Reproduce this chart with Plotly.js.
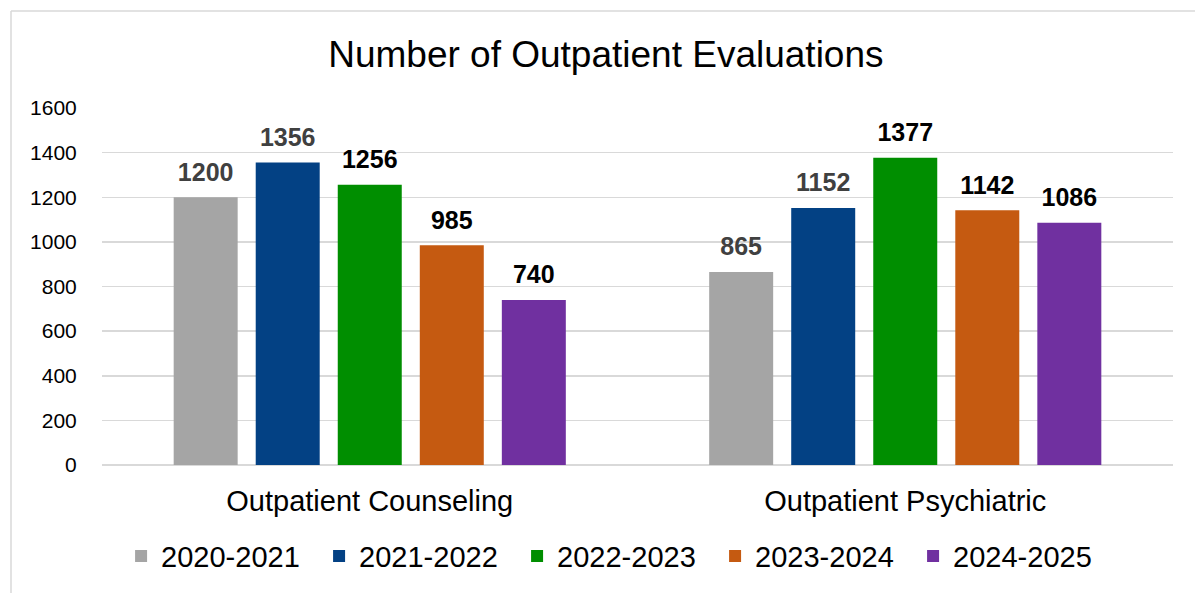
<!DOCTYPE html>
<html>
<head>
<meta charset="utf-8">
<script src="https://cdn.plot.ly/plotly-3.0.1.min.js"></script>
<style>
html,body{margin:0;padding:0;background:#fff;}
#chart{width:1195px;height:593px;}
</style>
</head>
<body>
<div id="chart"></div>
<script>
const categories = ["Outpatient Counseling", "Outpatient Psychiatric"];
const seriesNames = ["2020-2021", "2021-2022", "2022-2023", "2023-2024", "2024-2025"];
const v2020 = [1200, 865];
const v2021 = [1356, 1152];
const v2022 = [1256, 1377];
const v2023 = [985, 1142];
const v2024 = [740, 1086];
const yTicks = [0, 200, 400, 600, 800, 1000, 1200, 1400, 1600];

const colors = ["#A5A5A5", "#034184", "#008E00", "#C55A11", "#7030A0"];
const labelColors = ["#404040", "#404040", "#000000", "#000000", "#000000"];
const values = [v2020, v2021, v2022, v2023, v2024];
const FONT = "Liberation Sans, Arial, sans-serif";

const barTraces = values.map((vals, i) => ({
  type: "bar",
  name: seriesNames[i],
  x: categories,
  y: vals,
  marker: {color: colors[i], line: {width: 0}},
  hoverinfo: "skip"
}));

const labelTraces = values.map((vals, i) => ({
  type: "scatter",
  mode: "markers+text",
  orientation: "v",
  name: seriesNames[i] + " labels",
  showlegend: false,
  x: categories,
  y: vals,
  text: vals.map(v => String(v)),
  textposition: "top center",
  cliponaxis: false,
  marker: {size: 15, color: "rgba(0,0,0,0)", line: {width: 0}},
  textfont: {family: FONT, size: 25, color: labelColors[i], weight: "bold"},
  hoverinfo: "skip"
}));

const layout = {
  width: 1195,
  height: 593,
  paper_bgcolor: "#ffffff",
  plot_bgcolor: "#ffffff",
  margin: {l: 102, r: 22, t: 108, b: 128},
  title: {
    text: "Number of Outpatient Evaluations",
    font: {family: FONT, size: 37, color: "#000000"},
    x: 0.507, xanchor: "center",
    y: 0.909, yanchor: "middle"
  },
  barmode: "group",
  bargap: 0.234,
  bargroupgap: 0.22,
  scattermode: "group",
  scattergap: 0.234,
  showlegend: true,
  legend: {
    orientation: "h",
    x: 0.48, xanchor: "center",
    y: -0.255, yanchor: "middle",
    font: {family: FONT, size: 29, color: "#000000"},
    entrywidth: 153,
    itemwidth: 30,
    traceorder: "normal"
  },
  xaxis: {
    type: "category",
    showgrid: false,
    showline: false,
    zeroline: false,
    ticks: "outside",
    ticklen: 10,
    tickcolor: "rgba(0,0,0,0)",
    tickfont: {family: FONT, size: 29, color: "#000000"},
    fixedrange: true
  },
  yaxis: {
    range: [0, 1600],
    tickvals: yTicks,
    ticktext: yTicks.map(String),
    showgrid: true,
    gridcolor: "#D9D9D9",
    gridwidth: 1.5,
    zeroline: true,
    zerolinecolor: "#D9D9D9",
    zerolinewidth: 1.5,
    showline: false,
    ticks: "outside",
    ticklen: 20,
    tickcolor: "rgba(0,0,0,0)",
    tickfont: {family: FONT, size: 21, color: "#000000"},
    fixedrange: true
  },
  shapes: [
    {type: "line", xref: "paper", yref: "paper",
     x0: (11 - 102) / 1071, x1: (1195 - 102) / 1071,
     y0: (593 - 128 - 11) / 357, y1: (593 - 128 - 11) / 357,
     line: {color: "#D9D9D9", width: 1.5}},
    {type: "line", xref: "paper", yref: "paper",
     x0: (11 - 102) / 1071, x1: (11 - 102) / 1071,
     y0: (593 - 128 - 11) / 357, y1: (-128) / 357,
     line: {color: "#D9D9D9", width: 1.5}}
  ]
};

Plotly.newPlot("chart", barTraces.concat(labelTraces), layout, {displayModeBar: false, staticPlot: true});
</script>
</body>
</html>
